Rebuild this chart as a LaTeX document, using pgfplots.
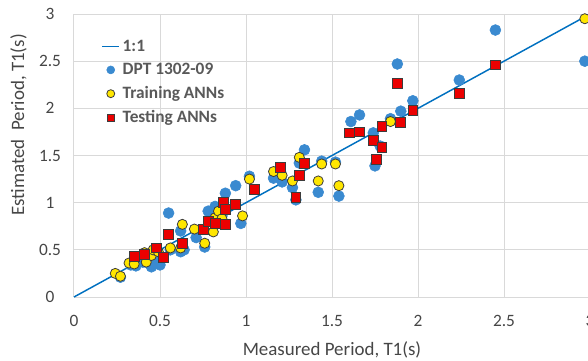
\documentclass[border=0pt]{standalone}
\usepackage{pgfplots}
\pgfplotsset{compat=1.18}
\usepackage{fontspec}
\setmainfont{Carlito}
\definecolor{dptblue}{RGB}{58,138,208}
\definecolor{linblue}{RGB}{0,112,192}
\definecolor{annyel}{RGB}{255,230,0}
\definecolor{annred}{RGB}{235,0,0}
\definecolor{edgegray}{RGB}{60,60,60}
\definecolor{gridgray}{RGB}{217,217,217}
\definecolor{labgray}{RGB}{70,70,70}
\definecolor{leggray}{RGB}{89,89,89}
\pgfplotsset{
 lineleg/.style={legend image code/.code={\draw[linblue, line width=1.1pt] (0.075cm,0cm) -- (0.525cm,0cm);}},
 markleg/.style={legend image code/.code={\draw[##1, mark size=#1] plot coordinates {(0.3cm,0cm)};}},
}
\begin{document}
\begin{tikzpicture}
\begin{axis}[
 scale only axis, width=387pt, height=212.25pt,
 xmin=0, xmax=3, ymin=0, ymax=3,
 xtick={0,0.5,1,1.5,2,2.5,3}, ytick={0,0.5,1,1.5,2,2.5,3},
 grid=major, grid style={draw=gridgray, line width=0.75pt},
 axis line style={draw=none},
 major tick length=0pt,
 /pgf/number format/assume math mode=true,
 tick label style={font=\fontsize{13}{15}\selectfont, text=labgray},
 xticklabel style={yshift=-10pt},
 yticklabel style={anchor=center, xshift=-18pt},
 xlabel={Measured Period, T1(s)},
 ylabel={Estimated\ \ Period, T1(s)},
 label style={font=\fontsize{14.2}{16}\selectfont, text=labgray},
 xlabel style={at={(axis description cs:0.5,-0.1873)}, anchor=center},
 ylabel style={at={(axis description cs:-0.1075,0.608)}, anchor=center},
 legend cell align=left,
 legend style={at={(0.045,0.928)}, anchor=north west, draw=none, fill=none,
   font=\bfseries\fontsize{13}{15}\selectfont, text=leggray, row sep=3.5pt},
 clip=false,
]
\addplot[color=linblue, line width=1.1pt, no marks, lineleg]
  coordinates {(0,0) (3,3)};
\addlegendentry{1:1}
\addplot[only marks, mark=*, mark size=4.1pt, mark options={fill=dptblue, draw=dptblue}, markleg=3pt]
  table {
0.27 0.21
0.33 0.34
0.36 0.33
0.40 0.37
0.43 0.36
0.45 0.32
0.50 0.34
0.48 0.40
0.55 0.89
0.56 0.50
0.62 0.70
0.62 0.48
0.64 0.50
0.71 0.63
0.76 0.53
0.78 0.91
0.82 0.96
0.83 0.88
0.86 0.86
0.88 1.10
0.94 1.18
0.97 0.78
1.02 1.28
1.16 1.26
1.21 1.22
1.27 1.16
1.29 1.03
1.34 1.56
1.31 1.42
1.44 1.44
1.42 1.11
1.54 1.07
1.52 1.43
1.61 1.86
1.66 1.93
1.74 1.74
1.75 1.39
1.78 1.60
1.84 1.89
1.88 2.47
1.90 1.97
1.97 2.08
2.24 2.30
2.45 2.83
2.97 2.50
};
\addlegendentry{DPT 1302-09}
\addplot[only marks, mark=*, mark size=3.8pt, mark options={fill=annyel, draw=edgegray, line width=0.6pt}, markleg=3pt]
  table {
0.24 0.25
0.27 0.22
0.32 0.36
0.35 0.35
0.41 0.47
0.42 0.37
0.45 0.44
0.46 0.50
0.49 0.48
0.56 0.52
0.62 0.52
0.63 0.77
0.70 0.72
0.76 0.57
0.81 0.69
0.82 0.84
0.84 0.91
0.86 0.83
0.98 0.86
1.02 1.25
1.16 1.33
1.21 1.29
1.27 1.23
1.31 1.48
1.42 1.23
1.44 1.41
1.52 1.41
1.54 1.18
1.84 1.86
2.97 2.95
};
\addlegendentry{Training ANNs}
\addplot[only marks, mark=square*, mark size=3.7pt, mark options={fill=annred, draw=edgegray, line width=0.6pt}, markleg=2.7pt]
  table {
0.35 0.43
0.41 0.45
0.48 0.52
0.52 0.42
0.55 0.66
0.63 0.57
0.75 0.72
0.78 0.80
0.82 0.78
0.88 0.77
0.87 1.00
0.88 0.93
0.94 0.98
1.05 1.14
1.20 1.37
1.29 1.06
1.31 1.29
1.34 1.42
1.60 1.74
1.66 1.75
1.74 1.66
1.76 1.46
1.79 1.59
1.79 1.81
1.88 2.26
1.90 1.85
1.97 1.98
2.24 2.16
2.45 2.46
};
\addlegendentry{Testing ANNs}
\end{axis}
\pgfresetboundingbox
\path[use as bounding box] (-55.5pt,-47.25pt) rectangle (385.5pt,222.75pt);
\end{tikzpicture}
\end{document}
